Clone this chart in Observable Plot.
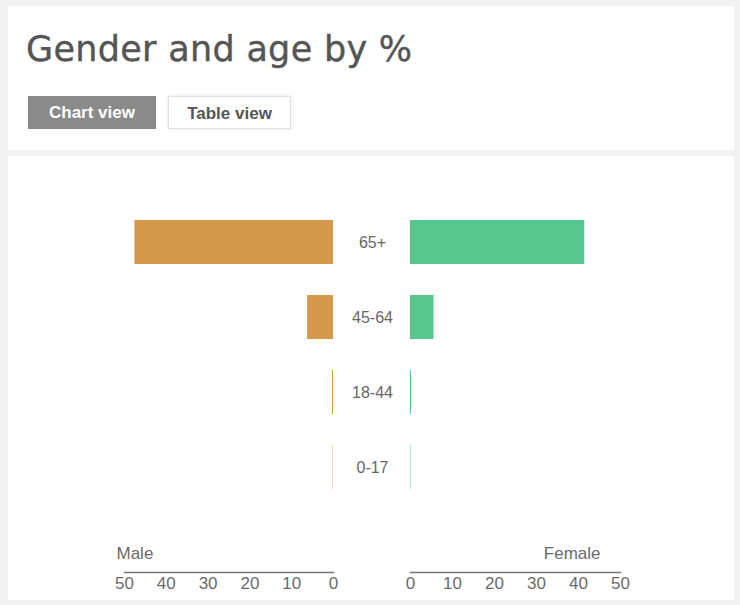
<!DOCTYPE html>
<html>
<head>
<meta charset="utf-8">
<script src="https://cdn.jsdelivr.net/npm/d3@7"></script>
<script src="https://cdn.jsdelivr.net/npm/@observablehq/plot@0.6"></script>
<style>
  html, body { margin: 0; padding: 0; }
  body { width: 740px; height: 605px; background: #f2f2f2; position: relative; overflow: hidden; font-family: "Liberation Sans", Arial, sans-serif; }
  #header { position: absolute; left: 8px; top: 6px; width: 726px; height: 144px; background: #fff; }
  #title { position: absolute; left: 18px; top: 23px; font-family: "DejaVu Sans", sans-serif; font-size: 35px; color: #555; letter-spacing: 0.3px; -webkit-text-stroke: 0.4px #555; }
  .btn { position: absolute; top: 90px; height: 33px; line-height: 33px; font-size: 17px; font-weight: bold; text-align: center; box-sizing: border-box; }
  #chartBtn { left: 20px; width: 128px; background: #8a8a8a; color: #fff; }
  #tableBtn { left: 160px; width: 123px; background: #fff; color: #555; border: 1px solid #e2e2e2; box-shadow: 0 0 3px rgba(0,0,0,0.12); }
  #panel { position: absolute; left: 8px; top: 156px; width: 726px; height: 444px; background: #fff; z-index: -1; }
  #male, #female { position: absolute; top: 0; }
  #male { left: 0; }
  #female { left: 370px; }
</style>
</head>
<body>
<div id="header">
  <div id="title">Gender and age by %</div>
  <div class="btn" id="chartBtn">Chart view</div>
  <div class="btn" id="tableBtn">Table view</div>
</div>
<div id="panel"></div>
<div id="male"></div>
<div id="female"></div>
<script>
const ageGroups = ["65+", "45-64", "18-44", "0-17"];
const maleValues = [47.5, 6.2, 0.25, 0.1];
const femaleValues = [41.5, 5.6, 0.25, 0.1];
const xTicks = [0, 10, 20, 30, 40, 50];

const maleData = ageGroups.map((g, i) => ({age: g, value: maleValues[i]}));
const femaleData = ageGroups.map((g, i) => ({age: g, value: femaleValues[i]}));

const H = 605;
const yRange = [187, 521];
const axisY = 572;
const FONT = "'Liberation Sans', Arial, sans-serif";

const male = Plot.plot({
  width: 410, height: H,
  marginLeft: 124, marginRight: 77, marginTop: 0, marginBottom: H - axisY,
  style: {background: "transparent", overflow: "visible", fontFamily: FONT},
  x: {domain: [50, 0], ticks: xTicks},
  y: {domain: ageGroups, range: yRange, padding: 0.42, axis: null},
  marks: [
    Plot.barX(maleData, {x: "value", y: "age", fill: "#d4994a"}),
    Plot.text(ageGroups, {x: 0, y: d => d, text: d => d, dx: 39, textAnchor: "middle", fontSize: 16, fill: "#666"}),
    Plot.frame({anchor: "bottom", stroke: "#777", strokeWidth: 1.3}),
    Plot.axisX({ticks: xTicks, tickSize: 0, tickPadding: 4, fontSize: 17, color: "#6a6a6a", label: null}),
    Plot.text(["Male"], {frameAnchor: "bottom-left", textAnchor: "start", dx: -8, dy: -14, fontSize: 17, fill: "#6a6a6a"})
  ]
});
document.getElementById("male").appendChild(male);

const female = Plot.plot({
  width: 370, height: H,
  marginLeft: 40, marginRight: 120, marginTop: 0, marginBottom: H - axisY,
  style: {background: "transparent", overflow: "visible", fontFamily: FONT},
  x: {domain: [0, 50], ticks: xTicks},
  y: {domain: ageGroups, range: yRange, padding: 0.42, axis: null},
  marks: [
    Plot.barX(femaleData, {x: "value", y: "age", fill: "#57c78f"}),
    Plot.frame({anchor: "bottom", stroke: "#777", strokeWidth: 1.3}),
    Plot.axisX({ticks: xTicks, tickSize: 0, tickPadding: 4, fontSize: 17, color: "#6a6a6a", label: null}),
    Plot.text(["Female"], {frameAnchor: "bottom-right", textAnchor: "end", dx: -20, dy: -14, fontSize: 17, fill: "#6a6a6a"})
  ]
});
document.getElementById("female").appendChild(female);
</script>
</body>
</html>
